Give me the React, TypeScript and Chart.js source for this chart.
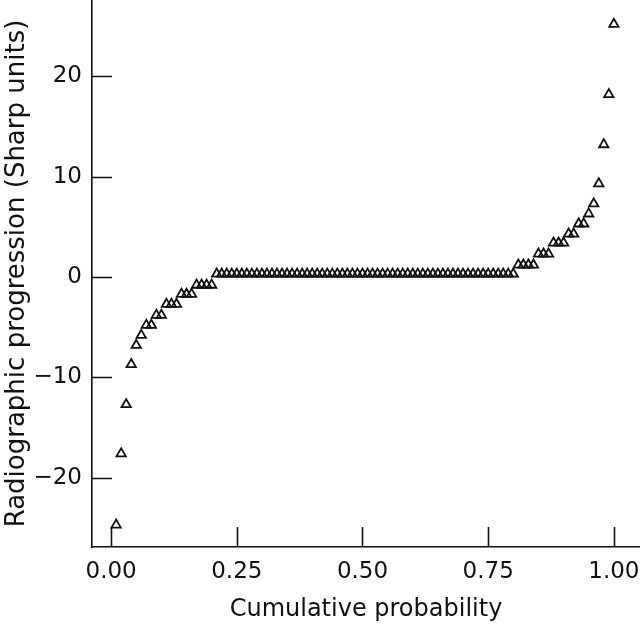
import React, { useEffect, useRef } from "react";
import { Chart, registerables } from "chart.js";

Chart.register(...registerables);

// Cumulative probability (rank / N) for each ordered observation
const cumulativeProbability: number[] = [
  0.01, 0.02, 0.03, 0.04, 0.05, 0.06, 0.07, 0.08, 0.09, 0.1,
  0.11, 0.12, 0.13, 0.14, 0.15, 0.16, 0.17, 0.18, 0.19, 0.2,
  0.21, 0.22, 0.23, 0.24, 0.25, 0.26, 0.27, 0.28, 0.29, 0.3,
  0.31, 0.32, 0.33, 0.34, 0.35, 0.36, 0.37, 0.38, 0.39, 0.4,
  0.41, 0.42, 0.43, 0.44, 0.45, 0.46, 0.47, 0.48, 0.49, 0.5,
  0.51, 0.52, 0.53, 0.54, 0.55, 0.56, 0.57, 0.58, 0.59, 0.6,
  0.61, 0.62, 0.63, 0.64, 0.65, 0.66, 0.67, 0.68, 0.69, 0.7,
  0.71, 0.72, 0.73, 0.74, 0.75, 0.76, 0.77, 0.78, 0.79, 0.8,
  0.81, 0.82, 0.83, 0.84, 0.85, 0.86, 0.87, 0.88, 0.89, 0.9,
  0.91, 0.92, 0.93, 0.94, 0.95, 0.96, 0.97, 0.98, 0.99, 1.0,
];

// Radiographic progression (Sharp units)
const progression: number[] = [
  -24.7, -17.6, -12.7, -8.7, -6.8, -5.8, -4.8, -4.8, -3.8, -3.8,
  -2.7, -2.7, -2.7, -1.7, -1.7, -1.7, -0.8, -0.8, -0.8, -0.8,
  0.3, 0.3, 0.3, 0.3, 0.3, 0.3, 0.3, 0.3, 0.3, 0.3,
  0.3, 0.3, 0.3, 0.3, 0.3, 0.3, 0.3, 0.3, 0.3, 0.3,
  0.3, 0.3, 0.3, 0.3, 0.3, 0.3, 0.3, 0.3, 0.3, 0.3,
  0.3, 0.3, 0.3, 0.3, 0.3, 0.3, 0.3, 0.3, 0.3, 0.3,
  0.3, 0.3, 0.3, 0.3, 0.3, 0.3, 0.3, 0.3, 0.3, 0.3,
  0.3, 0.3, 0.3, 0.3, 0.3, 0.3, 0.3, 0.3, 0.3, 0.3,
  1.2, 1.2, 1.2, 1.2, 2.3, 2.3, 2.3, 3.4, 3.4, 3.4,
  4.3, 4.3, 5.3, 5.3, 6.3, 7.3, 9.3, 13.2, 18.2, 25.2,
];

const xTickValues: number[] = [0, 0.25, 0.5, 0.75, 1.0];
const yTickValues: number[] = [-20, -10, 0, 10, 20];

const xTitle = "Cumulative probability";
const yTitle = "Radiographic progression (Sharp units)";

const FONT = "'DejaVu Sans', sans-serif";

const innerTicks = {
  id: "innerTicks",
  afterDraw(chart: any) {
    const { ctx, chartArea, scales } = chart;
    ctx.save();
    ctx.strokeStyle = "#111";
    ctx.lineWidth = 1.6;
    ctx.beginPath();
    for (const v of xTickValues) {
      const px = Math.round(scales.x.getPixelForValue(v)) + 0.5;
      ctx.moveTo(px, chartArea.bottom);
      ctx.lineTo(px, chartArea.bottom - 20);
    }
    for (const v of yTickValues) {
      const py = Math.round(scales.y.getPixelForValue(v)) + 0.5;
      ctx.moveTo(chartArea.left, py);
      ctx.lineTo(chartArea.left + 20, py);
    }
    ctx.stroke();
    ctx.restore();
  },
};

export default function App() {
  const canvasRef = useRef<HTMLCanvasElement | null>(null);

  useEffect(() => {
    if (!canvasRef.current) return;
    const points = cumulativeProbability.map((x, i) => ({ x, y: progression[i] }));
    const chart = new Chart(canvasRef.current, {
      type: "scatter",
      data: {
        datasets: [
          {
            data: points,
            pointStyle: "triangle",
            pointRadius: 5.4,
            pointBorderWidth: 1.8,
            pointBorderColor: "#111",
            pointBackgroundColor: "rgba(255,255,255,0)",
            showLine: false,
          },
        ],
      },
      options: {
        animation: false,
        responsive: false,
        events: [],
        layout: { padding: 0, autoPadding: false },
        plugins: {
          legend: { display: false },
          tooltip: { enabled: false },
        },
        scales: {
          x: {
            type: "linear",
            min: -0.038,
            max: 1.052,
            afterBuildTicks: (scale: any) => {
              scale.ticks = xTickValues.map((v) => ({ value: v }));
            },
            afterFit: (scale: any) => {
              scale.height = 77;
              scale.paddingLeft = 0;
              scale.paddingRight = 0;
            },
            grid: { display: false, drawTicks: false },
            border: { display: true, color: "#111", width: 1.6 },
            ticks: {
              padding: 11,
              color: "#111",
              font: { family: FONT, size: 23 },
              maxRotation: 0,
              autoSkip: false,
              callback: (v: any) => Number(v).toFixed(2),
            },
            title: {
              display: true,
              text: xTitle,
              color: "#111",
              font: { family: FONT, size: 24 },
              padding: { top: 2, bottom: 0 },
            },
          },
          y: {
            type: "linear",
            min: -26.9,
            max: 27.6,
            afterBuildTicks: (scale: any) => {
              scale.ticks = yTickValues.map((v) => ({ value: v }));
            },
            afterFit: (scale: any) => {
              scale.width = 92;
              scale.paddingTop = 0;
              scale.paddingBottom = 0;
            },
            grid: { display: false, drawTicks: false },
            border: { display: true, color: "#111", width: 1.6 },
            ticks: {
              padding: 10,
              color: "#111",
              font: { family: FONT, size: 23 },
              autoSkip: false,
              callback: (v: any) => (Number(v) < 0 ? "\u2212" + Math.abs(Number(v)) : String(v)),
            },
            title: {
              display: true,
              text: yTitle,
              color: "#111",
              font: { family: FONT, size: 26 },
              padding: { top: 2, bottom: 4 },
            },
          },
        },
      },
      plugins: [innerTicks],
    });
    return () => chart.destroy();
  }, []);

  return (
    <div style={{ position: "fixed", left: 0, top: 0, width: 640, height: 624, background: "#fff" }}>
      <canvas ref={canvasRef} width={640} height={624} style={{ width: 640, height: 624 }} />
    </div>
  );
}
